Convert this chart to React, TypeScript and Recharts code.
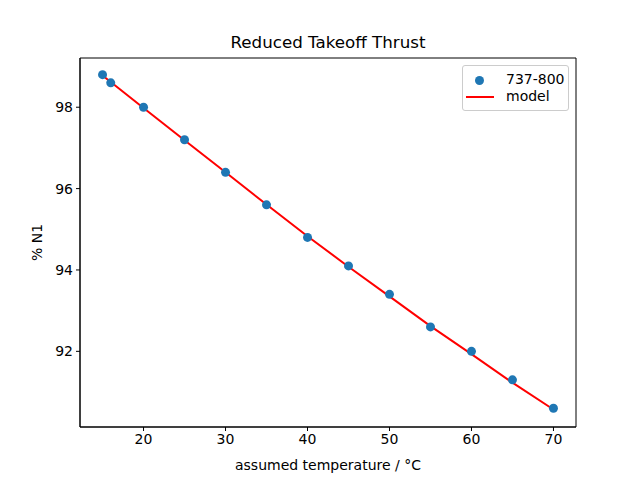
import { ComposedChart, Scatter, Line, XAxis, YAxis, Label, ReferenceArea } from "recharts";

const temperatures = [15, 16, 20, 25, 30, 35, 40, 45, 50, 55, 60, 65, 70];
const n1Measured = [98.8, 98.6, 98.0, 97.2, 96.4, 95.6, 94.8, 94.1, 93.4, 92.6, 92.0, 91.3, 90.6];
const n1Model = [98.78, 98.62, 97.98, 97.19, 96.4, 95.61, 94.83, 94.08, 93.35, 92.62, 91.93, 91.23, 90.57];
const xTicks = [20, 30, 40, 50, 60, 70];
const yTicks = [92, 94, 96, 98];

const xDomain = [12.25, 72.75];
const yDomain = [90.14, 99.21];

const data = temperatures.map((t, i) => ({ t, n1: n1Measured[i], model: n1Model[i] }));

const FONT = "DejaVu Sans, sans-serif";
const tickStyle = { fontSize: 14, fill: "#000", fontFamily: FONT };

export default function App() {
  return (
    <div style={{ position: "absolute", left: 0, top: 0, width: 640, height: 480, background: "#fff" }}>
      <div
        style={{
          position: "absolute",
          top: 32,
          left: 0,
          width: 656,
          textAlign: "center",
          fontFamily: FONT,
          fontSize: 16.7,
        }}
      >
        Reduced Takeoff Thrust
      </div>
      <ComposedChart width={640} height={480} data={data} margin={{ top: 58, right: 64, bottom: 23, left: 20 }}>
        <XAxis
          dataKey="t"
          type="number"
          domain={xDomain}
          ticks={xTicks}
          allowDataOverflow
          height={30}
          tick={tickStyle}
          tickSize={4}
          tickMargin={3}
          axisLine={{ stroke: "#000" }}
          tickLine={{ stroke: "#000" }}
        >
          <Label value="assumed temperature / °C" position="insideBottom" offset={-13} style={{ fontSize: 14, fill: "#000", fontFamily: FONT }} />
        </XAxis>
        <YAxis
          type="number"
          domain={yDomain}
          ticks={yTicks}
          allowDataOverflow
          width={60}
          tick={tickStyle}
          tickSize={4}
          tickMargin={3}
          axisLine={{ stroke: "#000" }}
          tickLine={{ stroke: "#000" }}
        >
          <Label value="% N1" angle={-90} position="insideLeft" offset={17} style={{ fontSize: 14, fill: "#000", fontFamily: FONT, textAnchor: "middle" }} />
        </YAxis>
        <ReferenceArea
          x1={xDomain[0]}
          x2={xDomain[1]}
          y1={yDomain[0]}
          y2={yDomain[1]}
          fill="none"
          fillOpacity={0}
          stroke="#000"
          strokeWidth={1}
          ifOverflow="visible"
        />
        <Scatter dataKey="n1" fill="#1f77b4" shape={(p: any) => <circle cx={p.cx} cy={p.cy} r={4.5} fill="#1f77b4" />} isAnimationActive={false} />
        <Line dataKey="model" stroke="#ff0000" strokeWidth={2} dot={false} type="linear" isAnimationActive={false} />
      </ComposedChart>
      <div
        style={{
          position: "absolute",
          left: 462,
          top: 65,
          width: 105,
          height: 44,
          border: "1px solid #cccccc",
          borderRadius: 3,
          background: "rgba(255,255,255,0.8)",
          fontFamily: FONT,
          fontSize: 14,
        }}
      >
        <div style={{ position: "absolute", left: 12, top: 10, width: 9, height: 9, borderRadius: "50%", background: "#1f77b4" }} />
        <div style={{ position: "absolute", left: 43, top: 5, lineHeight: "17px" }}>737-800</div>
        <div style={{ position: "absolute", left: 3, top: 30, width: 28, height: 2, background: "#ff0000" }} />
        <div style={{ position: "absolute", left: 43, top: 22, lineHeight: "17px" }}>model</div>
      </div>
    </div>
  );
}
